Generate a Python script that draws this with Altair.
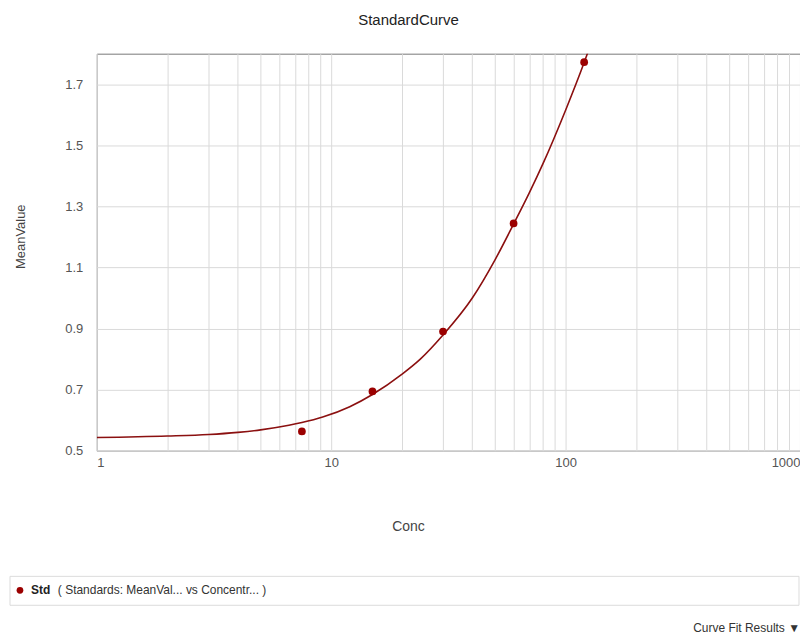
import altair as alt
import pandas as pd

# Standards (measured points)
std_conc = [7.5, 15, 30, 60, 120]
std_mean = [0.563, 0.694, 0.890, 1.244, 1.772]

# Fitted curve
curve_conc = [1, 2, 3, 4, 5, 6.6, 7.5, 9.2, 12, 15, 20, 24, 30, 40, 50, 60, 70, 80, 100, 120, 130]
curve_val = [0.543, 0.548, 0.553, 0.560, 0.568, 0.583, 0.592, 0.610, 0.644, 0.684, 0.750, 0.800,
             0.879, 1.000, 1.125, 1.242, 1.344, 1.439, 1.615, 1.771, 1.845]

x_grid = [1, 2, 3, 4, 5, 6, 7, 8, 9, 10, 20, 30, 40, 50, 60, 70, 80, 90,
          100, 200, 300, 400, 500, 600, 700, 800, 900, 1000]
y_ticks = [0.5, 0.7, 0.9, 1.1, 1.3, 1.5, 1.7]

FONT = "Liberation Sans Narrow, Arial Narrow, Liberation Sans, Arial, sans-serif"
RED = "#9b0000"

pts = pd.DataFrame({"Conc": std_conc, "MeanValue": std_mean})
crv = pd.DataFrame({"Conc": curve_conc, "MeanValue": curve_val})

xs = alt.Scale(type="log", domain=[1, 1000], nice=False)
ys = alt.Scale(domain=[0.5, 1.8], nice=False, zero=False)

x_axis = alt.Axis(
    values=x_grid, grid=True, gridColor="#dadada", ticks=False, domain=False,
    labelExpr="(datum.value == 1 || datum.value == 10 || datum.value == 100 || datum.value == 1000) ? format(datum.value, 'd') : ''",
    labelFlush=True, labelOverlap=False, labelPadding=6, labelFontSize=13, labelFont=FONT,
    labelColor="#555", title="Conc", titleFont=FONT, titleFontSize=14, titleFontWeight="normal",
    titleColor="#444", titleX=312, titleY=76, titleBaseline="middle", titleAlign="center",
)
y_axis = alt.Axis(
    values=y_ticks, format=".1f", grid=True, gridColor="#dadada", ticks=False, domain=False,
    labelFlush=False, labelOverlap=False, labelPadding=14, labelFontSize=13, labelFont=FONT,
    labelColor="#555", title="MeanValue", titleFont=FONT, titleFontSize=13,
    titleFontWeight="normal", titleColor="#444", titleX=-76, titleY=183,
    titleBaseline="middle", titleAlign="center", titleAngle=-90,
)

line = alt.Chart(crv).mark_line(color="#8b1010", strokeWidth=1.6, interpolate="monotone", clip=True).encode(
    x=alt.X("Conc:Q", scale=xs, axis=x_axis),
    y=alt.Y("MeanValue:Q", scale=ys, axis=y_axis),
)
dots = alt.Chart(pts).mark_circle(color=RED, size=60, opacity=1).encode(
    x=alt.X("Conc:Q", scale=xs),
    y=alt.Y("MeanValue:Q", scale=ys),
)

deco = alt.Chart(alt.Data(values=[{"k": 1}]))
box = deco.mark_rect(fill="white", stroke="#dcdcdc", strokeWidth=1).encode(
    x=alt.value(-87), x2=alt.value(704), y=alt.value(524), y2=alt.value(553)
)
ldot = deco.mark_circle(color=RED, size=45, opacity=1).encode(x=alt.value(-77), y=alt.value(538))
lstd = deco.mark_text(text="Std", font=FONT, fontSize=12, fontWeight="bold", align="left",
                      baseline="middle", color="#222").encode(x=alt.value(-66), y=alt.value(538))
lrest = deco.mark_text(text="( Standards: MeanVal...   vs Concentr...  )", font=FONT, fontSize=12,
                       align="left", baseline="middle", color="#333").encode(x=alt.value(-39), y=alt.value(538))
cfr = deco.mark_text(text="Curve Fit Results \u25bc", font=FONT, fontSize=12, align="right",
                     baseline="middle", color="#333").encode(x=alt.value(705), y=alt.value(576))

chart = alt.layer(line, dots, box, ldot, lstd, lrest, cfr).properties(
    width=705, height=398,
    title=alt.TitleParams("StandardCurve", font=FONT, fontSize=15, fontWeight="normal",
                          color="#222", dx=-40, offset=26),
    autosize=alt.AutoSizeParams(type="none"),
    padding={"left": 89, "top": 45, "right": 0, "bottom": 540 - 398 + 44},
).configure_view(stroke="#777", strokeWidth=1)

chart.save("out.html", embed_options={"renderer": "svg", "actions": False})
